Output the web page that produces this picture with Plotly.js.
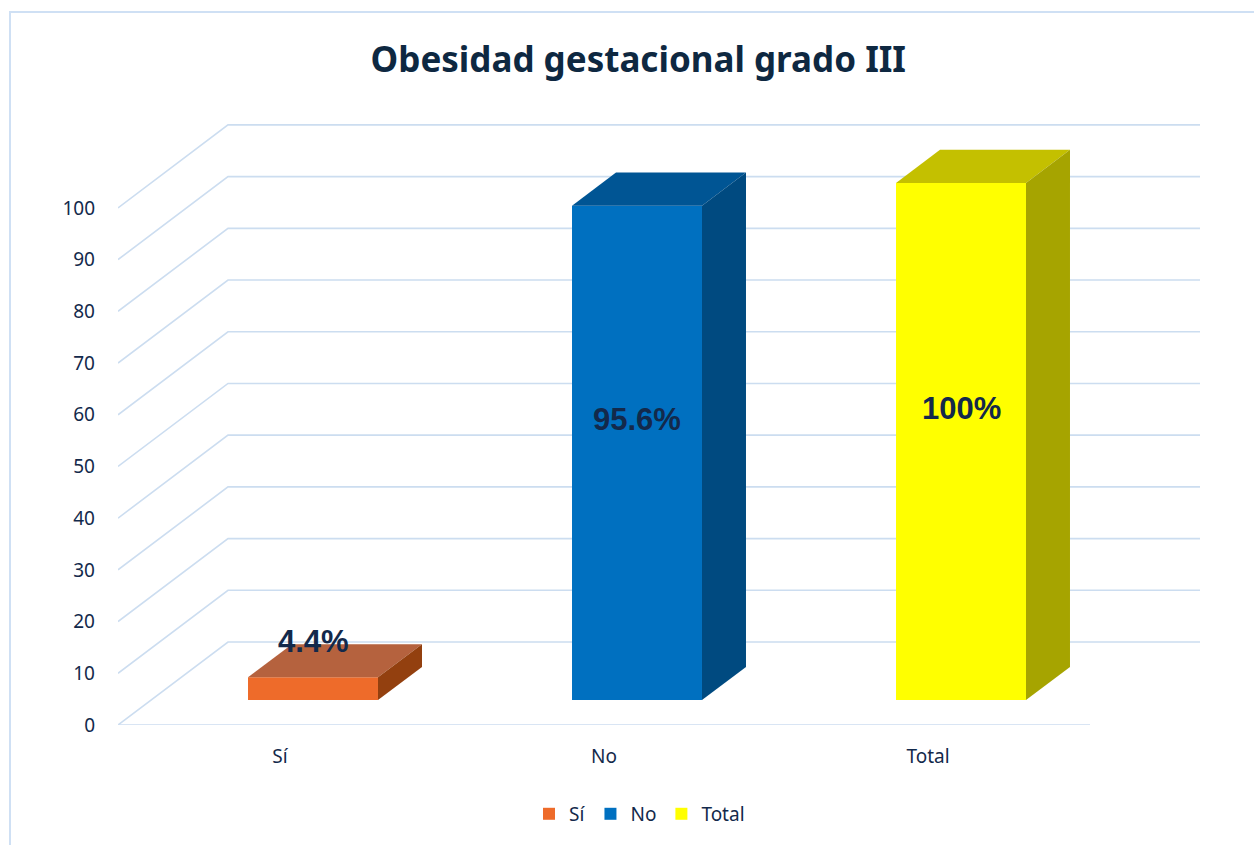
<!DOCTYPE html>
<html>
<head>
<meta charset="utf-8">
<script src="https://cdn.plot.ly/plotly-3.0.1.min.js"></script>
<style>html,body{margin:0;padding:0;background:#fff;}#chart{width:1254px;height:845px;}</style>
</head>
<body>
<div id="chart"></div>
<script>
// ---- data ----
const categories = ["Sí", "No", "Total"];
const values = [4.4, 95.6, 100];
const labels = ["4.4%", "95.6%", "100%"];
const yTicks = [0, 10, 20, 30, 40, 50, 60, 70, 80, 90, 100];

// ---- styles ----
const frontColors = ["#EE6B2A", "#0070C0", "#FFFF00"];
const topColors   = ["#B5623E", "#005594", "#C4C000"];
const sideColors  = ["#93400F", "#004A80", "#A6A400"];
const gridColor = "#CCDDF0";
const textColor = "#13294B";
const font = "Noto Sans, Roboto, sans-serif";

// pseudo-3D geometry (axis units)
const dX = 0.3395, dY = 16.05;     // full depth offset
const t0 = 0.3, tDepth = 0.4;      // bar starts at 30% depth, 40% deep
const barW = 0.4012;
const base = t0 * dY;
const xMin = -0.5, xMax = categories.length - 0.5;

const traces = [];
// front faces as bars
categories.forEach((c, i) => {
  traces.push({
    type: "bar", name: c,
    x: [i + t0 * dX], y: [values[i]], base: [base], width: [barW],
    marker: {color: frontColors[i], line: {width: 0}},
    hoverinfo: "skip", showlegend: true
  });
});
// top & side faces
categories.forEach((c, i) => {
  const xl = i + t0 * dX - barW / 2, xr = i + t0 * dX + barW / 2;
  const top = base + values[i];
  const ox = tDepth * dX, oy = tDepth * dY;
  traces.push({
    type: "scatter", mode: "lines", fill: "toself", fillcolor: topColors[i],
    line: {width: 0, color: topColors[i]},
    x: [xl, xl + ox, xr + ox, xr, xl], y: [top, top + oy, top + oy, top, top],
    hoverinfo: "skip", showlegend: false
  });
  traces.push({
    type: "scatter", mode: "lines", fill: "toself", fillcolor: sideColors[i],
    line: {width: 0, color: sideColors[i]},
    x: [xr, xr, xr + ox, xr + ox, xr], y: [base, top, top + oy, base + oy, base],
    hoverinfo: "skip", showlegend: false
  });
});

// gridlines (walls) as shapes below traces
const shapes = [];
yTicks.forEach(v => {
  shapes.push({type: "path", layer: "below", xref: "x", yref: "y",
    path: `M ${xMin},${v} L ${xMin + dX},${v + dY} L ${xMax + dX},${v + dY}`,
    line: {color: gridColor, width: 1.6}});
});
shapes.push({type: "line", layer: "below", xref: "x", yref: "y",
  x0: xMin, y0: 0, x1: xMax, y1: 0, line: {color: gridColor, width: 1.6}});
// chart border (top & left)
shapes.push({type: "path", xref: "paper", yref: "paper",
  path: "M -0.0998,-0.2 L -0.0998,1.1785 L 1.06,1.1785",
  line: {color: "#CFE0F4", width: 2}});

// data labels
const annotations = categories.map((c, i) => {
  const small = values[i] < 10;
  const y = small ? base + values[i] + tDepth * dY + 0.6
                  : base + values[i] * 0.5 + tDepth * dY;
  return {x: i + t0 * dX, y: y, xref: "x", yref: "y", text: labels[i],
    showarrow: false, font: {family: "Liberation Sans, Arial, sans-serif", size: 31, color: textColor, weight: "bold"}};
});

const layout = {
  width: 1254, height: 845,
  margin: {l: 118, r: 54, t: 120, b: 120},
  paper_bgcolor: "#ffffff", plot_bgcolor: "rgba(0,0,0,0)",
  title: {text: "Obesidad gestacional grado III", x: 0.509, xanchor: "center", y: 0.929, yanchor: "middle",
    font: {family: font, size: 35, color: "#0E2841", weight: "bold"}},
  xaxis: {range: [xMin, xMax + dX], tickvals: categories.map((c, i) => i), ticktext: categories,
    showgrid: false, zeroline: false, showline: false, ticks: "", ticklabelstandoff: 18,
    tickfont: {family: font, size: 19, color: textColor}, fixedrange: true},
  yaxis: {range: [0, 117], tickvals: yTicks, showgrid: false, zeroline: false, showline: false,
    ticks: "", ticklabelstandoff: 22, tickfont: {family: font, size: 19, color: textColor}, fixedrange: true},
  barmode: "overlay",
  showlegend: true,
  legend: {orientation: "h", x: 0.482, xanchor: "center", y: -0.147, yanchor: "middle",
    font: {family: font, size: 19, color: textColor}, itemclick: false, traceorder: "normal"},
  shapes: shapes, annotations: annotations
};

Plotly.newPlot("chart", traces, layout, {displayModeBar: false, staticPlot: true});
</script>
</body>
</html>
